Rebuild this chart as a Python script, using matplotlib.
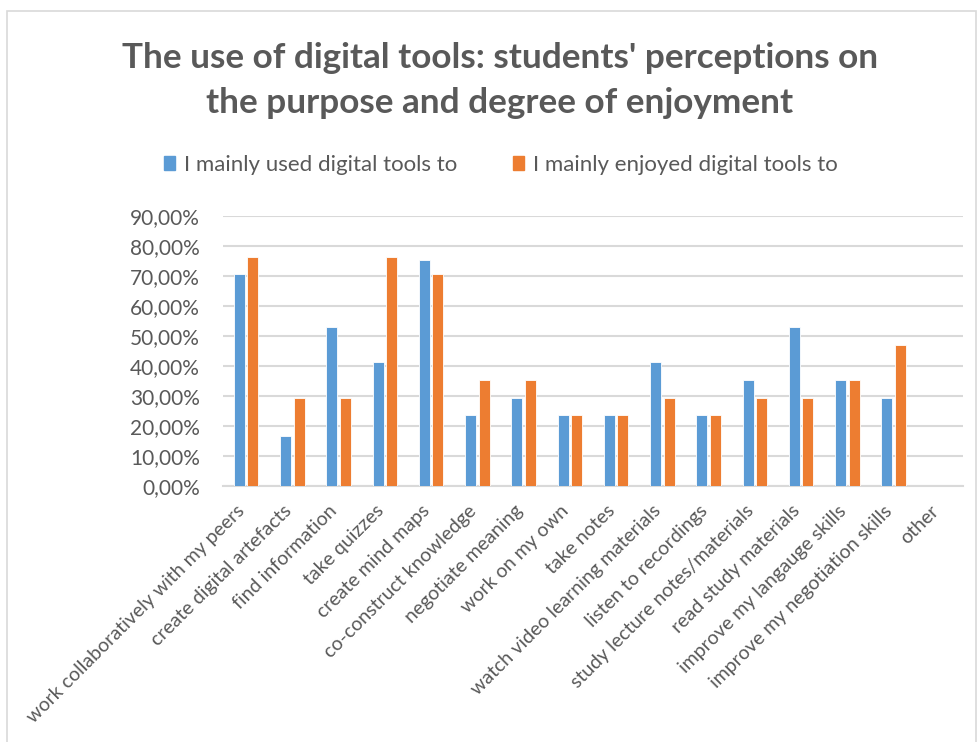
import matplotlib.pyplot as plt
import matplotlib.transforms as mtransforms
from matplotlib.patches import Rectangle, Patch
from matplotlib.ticker import FuncFormatter
import numpy as np

# survey answers, share of students per purpose
categories = [
    "work collaboratively with my peers", "create digital artefacts",
    "find information", "take quizzes", "create mind maps",
    "co-construct knowledge", "negotiate meaning", "work on my own",
    "take notes", "watch video learning materials", "listen to recordings",
    "study lecture notes/materials", "read study materials",
    "improve my langauge skills", "improve my negotiation skills", "other",
]
used = [70.59, 16.67, 52.94, 41.18, 75.30, 23.53, 29.41, 23.53,
        23.53, 41.18, 23.53, 35.29, 52.94, 35.29, 29.41, 0.0]
enjoyed = [76.47, 29.41, 29.41, 76.47, 70.59, 35.29, 35.29, 23.53,
           23.53, 29.41, 23.53, 29.41, 29.41, 35.29, 47.06, 0.0]
series_names = ["I mainly used digital tools to", "I mainly enjoyed digital tools to"]

BLUE = "#5B9BD5"
ORANGE = "#ED7D31"
GREY = "#595959"
GRID = "#D9D9D9"

plt.rcParams['font.family'] = ['Lato', 'DejaVu Sans']

W, H = 980, 742
fig = plt.figure(figsize=(W / 100, H / 100), dpi=100)

# chart frame
fig.patches.append(Rectangle((7 / W, -0.05), 969 / W, 1 - 11 / H + 0.05,
                             transform=fig.transFigure, fill=False,
                             edgecolor=GRID, linewidth=1.2))

ax = fig.add_axes([223 / W, 1 - 486 / H, 740 / W, 270 / H])
x = np.arange(len(categories))
bw = 0.24
off = 0.145
ax.bar(x - off, used, bw, color=BLUE, edgecolor="white", linewidth=0.6, zorder=3)
ax.bar(x + off, enjoyed, bw, color=ORANGE, edgecolor="white", linewidth=0.6, zorder=3)

ax.set_xlim(-0.5, len(categories) - 0.5)
ax.set_ylim(0, 90)
ax.set_yticks(np.arange(0, 91, 10))
ax.yaxis.set_major_formatter(FuncFormatter(lambda v, p: f"{v:.2f}%".replace(".", ",")))
ax.grid(axis="y", color=GRID, linewidth=1.5, zorder=0)
for s in ["top", "right", "left"]:
    ax.spines[s].set_visible(False)
ax.spines["bottom"].set_color(GRID)
ax.spines["bottom"].set_linewidth(1.5)
ax.tick_params(axis="y", length=0, pad=16.5, labelsize=15, labelcolor=GREY)
ax.tick_params(axis="x", length=0, pad=16, labelsize=14, labelcolor=GREY)
ax.set_xticks(x)
ax.set_xticklabels(categories, rotation=45, ha="right", va="center",
                   rotation_mode="anchor")
# nudge the slanted labels a little to the left
shift = mtransforms.ScaledTranslation(-4 / 100, 0, fig.dpi_scale_trans)
for lbl in ax.get_xticklabels():
    lbl.set_transform(lbl.get_transform() + shift)

fig.text(0.51, 1 - 68 / H, "The use of digital tools: students' perceptions on",
         ha="center", va="baseline", fontsize=25.3, fontweight="bold", color=GREY)
fig.text(0.51, 1 - 113 / H, "the purpose and degree of enjoyment",
         ha="center", va="baseline", fontsize=25.3, fontweight="bold", color=GREY)

handles = [Patch(color=BLUE), Patch(color=ORANGE)]
fig.legend(handles, series_names, loc="center", bbox_to_anchor=(0.511, 1 - 165 / H),
           ncol=2, frameon=False, fontsize=16, labelcolor=GREY,
           handlelength=0.5, handleheight=0.55, handletextpad=0.4,
           columnspacing=2.5)

fig.savefig("out.png", dpi=100, facecolor="white")
